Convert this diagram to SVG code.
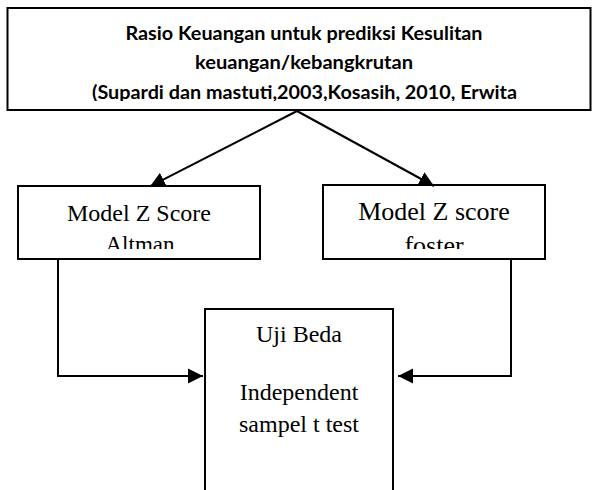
<svg xmlns="http://www.w3.org/2000/svg" width="594" height="490" viewBox="0 0 594 490">
<style>
.box{fill:#fff;stroke:#000;stroke-width:2}
.hd{font-family:Lato,"Liberation Sans",sans-serif;font-weight:bold;font-size:19px;text-anchor:middle;fill:#000}
.tx{font-family:"Liberation Serif","Times New Roman",serif;text-anchor:middle;fill:#000}
.cn{fill:none;stroke:#000;stroke-width:2}
</style>
<defs>
<marker id="ah" viewBox="0 -8 15 16" refX="15" refY="0" markerWidth="15" markerHeight="16" markerUnits="userSpaceOnUse" orient="auto"><path d="M0,-7.5 L15,0 L0,7.5 z" fill="#000"/></marker>
<clipPath id="c0"><rect x="8" y="9" width="582" height="92"/></clipPath>
<clipPath id="c1"><rect x="19" y="187" width="240" height="62"/></clipPath>
<clipPath id="c2"><rect x="324" y="186" width="220" height="63"/></clipPath>
</defs>
<g id="node-rasio">
<rect class="box" x="7.5" y="8" width="583" height="102"/>
<g clip-path="url(#c0)">
<text class="hd" x="304" y="39.5" textLength="357" lengthAdjust="spacingAndGlyphs">Rasio Keuangan untuk prediksi Kesulitan</text>
<text class="hd" x="304" y="69" textLength="218" lengthAdjust="spacingAndGlyphs">keuangan/kebangkrutan</text>
<text class="hd" x="304.5" y="98.5" textLength="425" lengthAdjust="spacingAndGlyphs">(Supardi dan mastuti,2003,Kosasih, 2010, Erwita</text>
</g>
</g>
<g id="node-altman">
<rect class="box" x="18" y="186" width="242" height="73"/>
<g clip-path="url(#c1)">
<text class="tx" x="139" y="221" font-size="24">Model Z Score</text>
<text class="tx" x="140" y="252" font-size="23">Altman</text>
</g>
</g>
<g id="node-foster">
<rect class="box" x="323" y="185" width="222" height="74"/>
<g clip-path="url(#c2)">
<text class="tx" x="434" y="220" font-size="26">Model Z score</text>
<text class="tx" x="434" y="254" font-size="26">foster</text>
</g>
</g>
<g id="node-uji">
<rect class="box" x="205" y="309" width="188" height="200"/>
<text class="tx" x="299" y="342" font-size="24">Uji Beda</text>
<text class="tx" x="299" y="400" font-size="24">Independent</text>
<text class="tx" x="299" y="432" font-size="24">sampel t test</text>
</g>
<g id="connectors">
<path class="cn" d="M297,111 L150,186.4" marker-end="url(#ah)"/>
<path class="cn" d="M297,111 L434,186" marker-end="url(#ah)"/>
<path class="cn" d="M58,259 V376 H203" marker-end="url(#ah)"/>
<path class="cn" d="M511,259 V376 H398" marker-end="url(#ah)"/>
</g>
</svg>
